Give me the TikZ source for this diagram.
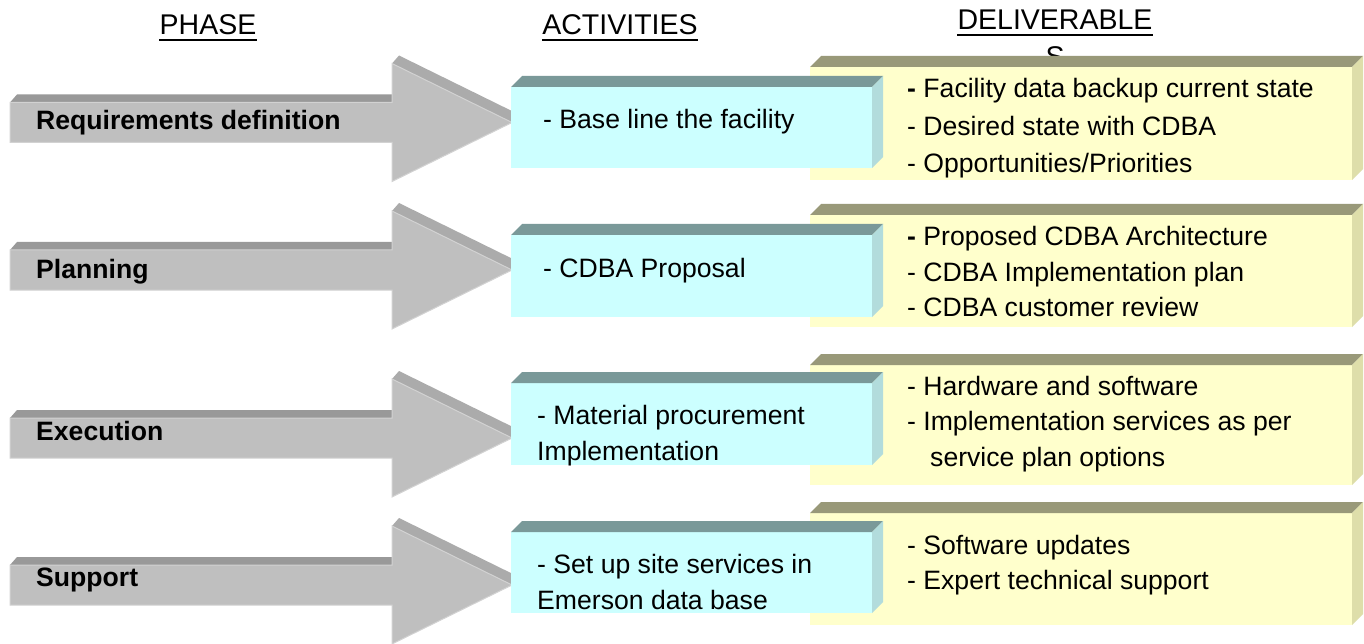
\documentclass[tikz,border=0pt]{standalone}
\usepackage{fontspec}
\setmainfont{Liberation Sans}
\definecolor{arrfront}{HTML}{BFBFBF}
\definecolor{arrtop}{HTML}{999999}
\definecolor{arrband}{HTML}{ABABAB}
\definecolor{arredge}{HTML}{D2D2D2}
\definecolor{cyfront}{HTML}{CCFFFF}
\definecolor{cytop}{HTML}{7A9999}
\definecolor{cyside}{HTML}{B2DCDC}
\definecolor{yefront}{HTML}{FFFFCC}
\definecolor{yetop}{HTML}{999979}
\definecolor{yeside}{HTML}{DEDEAA}
\newcommand\cuboidbox[8]{%
  \fill[#6] (#1,#2) rectangle (#3,#4);
  \fill[#7] (#1,#2) -- (#1+#5,#2-#5) -- (#3+#5,#2-#5) -- (#3,#2) -- cycle;
  \fill[#8] (#3,#2) -- (#3+#5,#2-#5) -- (#3+#5,#4-#5) -- (#3,#4) -- cycle;
}
\newcommand\phasearrow[1]{%
  \fill[arrtop] (10,#1-20) -- (17,#1-28) -- (399,#1-28) -- (392,#1-20) -- cycle;
  \fill[arrband] (392,#1-59) -- (399,#1-67) -- (519,#1-8) -- (512,#1) -- cycle;
  \filldraw[fill=arrfront,draw=arredge,line width=1pt,line join=miter]
    (10,#1-20) -- (392,#1-20) -- (392,#1-59) -- (512,#1) -- (392,#1+59)
    -- (392,#1+20) -- (10,#1+20) -- cycle;
}
\tikzset{
  hdr/.style={font=\fontsize{28.5}{37}\selectfont, inner sep=0pt, anchor=base},
  phase/.style={font=\fontsize{26.6}{32}\selectfont\bfseries, inner sep=0pt, anchor=base west},
  item/.style={font=\fontsize{26.6}{32}\selectfont, inner sep=0pt, anchor=base west},
}
\begin{document}
\begin{tikzpicture}[x=1pt,y=-1pt]
\useasboundingbox (0,0) rectangle (1364,644);
\fill[white] (0,0) rectangle (1364,644);

% headers
\node[hdr] (hphase) at (208,35) {PHASE};
\node[hdr] (hact) at (620,35) {ACTIVITIES};
\node[hdr] (hdel) at (1055,30) {DELIVERABLE};
\node[hdr] (hdels) at (1055,67) {S};
\draw[line width=2pt] ([yshift=-5pt]hphase.base west) -- ([yshift=-5pt]hphase.base east);
\draw[line width=2pt] ([yshift=-5pt]hact.base west) -- ([yshift=-5pt]hact.base east);
\draw[line width=2pt] ([yshift=-5pt]hdel.base west) -- ([yshift=-5pt]hdel.base east);

% phase arrows
\phasearrow{122.5}
\phasearrow{270}
\phasearrow{438}
\phasearrow{585}

% deliverable boxes
\cuboidbox{810}{67}{1352}{180}{11}{yefront}{yetop}{yeside}
\cuboidbox{810}{215}{1352}{327}{11}{yefront}{yetop}{yeside}
\cuboidbox{810}{365}{1352}{485}{11}{yefront}{yetop}{yeside}
\cuboidbox{810}{513}{1352}{625}{11}{yefront}{yetop}{yeside}

% activity boxes
\cuboidbox{511}{87}{872}{168}{11}{cyfront}{cytop}{cyside}
\cuboidbox{511}{235}{872}{317}{11}{cyfront}{cytop}{cyside}
\cuboidbox{511}{383}{872}{465}{11}{cyfront}{cytop}{cyside}
\cuboidbox{511}{532}{872}{613}{11}{cyfront}{cytop}{cyside}

% phase labels
\node[phase] (p1) at (36,129.5) {Requirements definition};
\node[phase] (p2) at (36,278) {Planning};
\node[phase] (p3) at (36,440) {Execution};
\node[phase] (p4) at (36,586) {Support};

% activities
\node[item] (a1) at (543,129) {- Base line the facility};
\node[item] (a2) at (543,277) {- CDBA Proposal};
\node[item] (a3a) at (537,424) {- Material procurement};
\node[item] (a3b) at (537,460) {Implementation};
\node[item] (a4a) at (537,573) {- Set up site services in};
\node[item] (a4b) at (537,609) {Emerson data base};

% deliverables
\node[item] (d1a) at (907,98) {\textbf{-} Facility data backup current state};
\node[item] (d1b) at (907,136) {- Desired state with CDBA};
\node[item] (d1c) at (907,173) {- Opportunities/Priorities};
\node[item] (d2a) at (907,246) {\textbf{-} Proposed CDBA Architecture};
\node[item] (d2b) at (907,281) {- CDBA Implementation plan};
\node[item] (d2c) at (907,316) {- CDBA customer review};
\node[item] (d3a) at (907,395) {- Hardware and software};
\node[item] (d3b) at (907,430) {- Implementation services as per};
\node[item] (d3c) at (930,466) {service plan options};
\node[item] (d4a) at (907,554) {- Software updates};
\node[item] (d4b) at (907,589) {- Expert technical support};
\end{tikzpicture}
\end{document}
